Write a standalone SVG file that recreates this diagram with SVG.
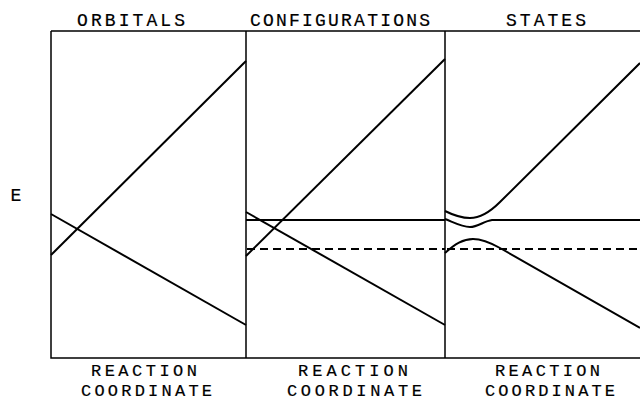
<svg xmlns="http://www.w3.org/2000/svg" width="640" height="400" viewBox="0 0 640 400">
<style>
.bg{fill:#fff}
.frame{fill:none;stroke:#000;stroke-width:1.5}
.ln{fill:none;stroke:#000;stroke-width:2;stroke-linecap:butt}
.dash{fill:none;stroke:#000;stroke-width:2;stroke-dasharray:8 5}
.t{font-family:"Liberation Mono","DejaVu Sans Mono",monospace;font-size:18px;fill:#000;stroke:#000;stroke-width:0.2}
.b{font-size:17px}
</style>
<rect class="bg" x="0" y="0" width="640" height="400"/>
<g id="frame">
<path class="frame" d="M51,31 H640 M51,31 V358 H640 M246,31 V358 M445,31 V358"/>
</g>
<text class="t" x="16" y="201" font-size="15" text-anchor="middle">E</text>
<g id="orbitals">
<text class="t" x="77" y="26" textLength="108" lengthAdjust="spacing">ORBITALS</text>
<path class="ln" d="M51,255 L246,61"/>
<path class="ln" d="M51,214 L246,325"/>
<text class="t b" x="91" y="376" textLength="106" lengthAdjust="spacing">REACTION</text>
<text class="t b" x="81" y="396" textLength="131" lengthAdjust="spacing">COORDINATE</text>
</g>
<g id="configurations">
<text class="t" x="250" y="26" textLength="180" lengthAdjust="spacing">CONFIGURATIONS</text>
<path class="ln" d="M246,256 L445,59"/>
<path class="ln" d="M246,212 L445,325"/>
<path class="ln" d="M246,220 L445,220"/>
<path class="dash" d="M247,249 L445,249"/>
<text class="t b" x="298" y="376" textLength="110" lengthAdjust="spacing">REACTION</text>
<text class="t b" x="287" y="396" textLength="135" lengthAdjust="spacing">COORDINATE</text>
</g>
<g id="states">
<text class="t" x="506" y="26" textLength="80" lengthAdjust="spacing">STATES</text>
<path class="ln" d="M445,211 C455,216 462,218 470,218 C480,218 490,212 500,202 L640,63"/>
<path class="ln" d="M445,219 C455,223 462,227 470,227 C478,227 484,221 492,220 L640,220"/>
<path class="ln" d="M445,253 C455,244 463,239 473,239 C483,239 491,243 500,248 L640,328"/>
<path class="dash" d="M447,249 L640,249"/>
<text class="t b" x="495" y="376" textLength="105" lengthAdjust="spacing">REACTION</text>
<text class="t b" x="485" y="396" textLength="130" lengthAdjust="spacing">COORDINATE</text>
</g>
</svg>
